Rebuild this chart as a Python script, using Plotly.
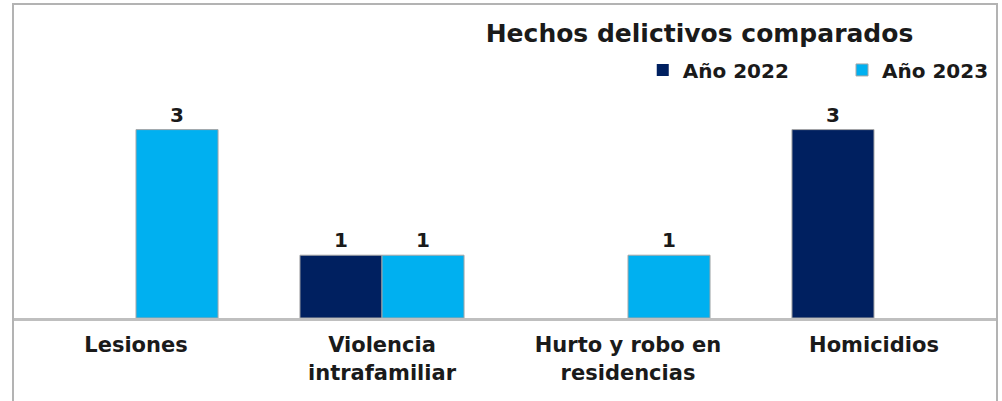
import plotly.graph_objects as go

categories = ["Lesiones", "Violencia<br>intrafamiliar", "Hurto y robo en<br>residencias", "Homicidios"]
series_names = ["Año 2022", "Año 2023"]
values_2022 = [0, 1, 0, 3]
values_2023 = [3, 1, 1, 0]
title_text = "Hechos delictivos comparados"

colors = ["#002060", "#00B0F0"]
legend_ids = ["legend", "legend2"]
FONT = "DejaVu Sans"
TXT = "#1a1a1a"

fig = go.Figure()
for name, vals, col, lg in zip(series_names, [values_2022, values_2023], colors, legend_ids):
    fig.add_trace(go.Bar(
        x=categories, y=vals, name=name, legend=lg,
        marker=dict(color=col, line=dict(color="#a6a6a6", width=[1 if v else 0 for v in vals])),
        text=[str(v) if v else "" for v in vals],
        textposition="outside",
        textfont=dict(family=FONT, size=20, color=TXT, weight="bold"),
        cliponaxis=False,
    ))

legend_style = dict(orientation="h", yanchor="middle", y=0.79, xanchor="left",
                    font=dict(family=FONT, size=20, color=TXT, weight="bold"),
                    bgcolor="rgba(0,0,0,0)", borderwidth=0)

fig.update_layout(
    width=1002, height=401,
    margin=dict(l=13, r=5, t=4, b=83, autoexpand=False),
    paper_bgcolor="white", plot_bgcolor="white",
    barmode="group", bargap=0.333, bargroupgap=0,
    title=dict(text=title_text, x=699.5 / 1002, xanchor="center",
               y=1 - 33 / 401, yanchor="middle",
               font=dict(family=FONT, size=25, color=TXT, weight="bold")),
    legend=dict(legend_style, x=0.640),
    legend2=dict(legend_style, x=0.8425),
    xaxis=dict(showline=True, linecolor="#bfbfbf", linewidth=3, showgrid=False,
               automargin=False, ticks="outside", ticklen=6, tickcolor="rgba(0,0,0,0)",
               tickfont=dict(family=FONT, size=21, color=TXT, weight="bold")),
    yaxis=dict(range=[0, 5], visible=False, showgrid=False, zeroline=False, automargin=False),
    shapes=[dict(type="rect", xref="paper", yref="paper", x0=0, x1=1, y0=-0.4, y1=1,
                 line=dict(color="#b3b3b3", width=2), layer="above")],
    showlegend=True,
)

fig.write_html("out.html", config={"displayModeBar": False},
               post_script="document.body.style.margin='0px';")
